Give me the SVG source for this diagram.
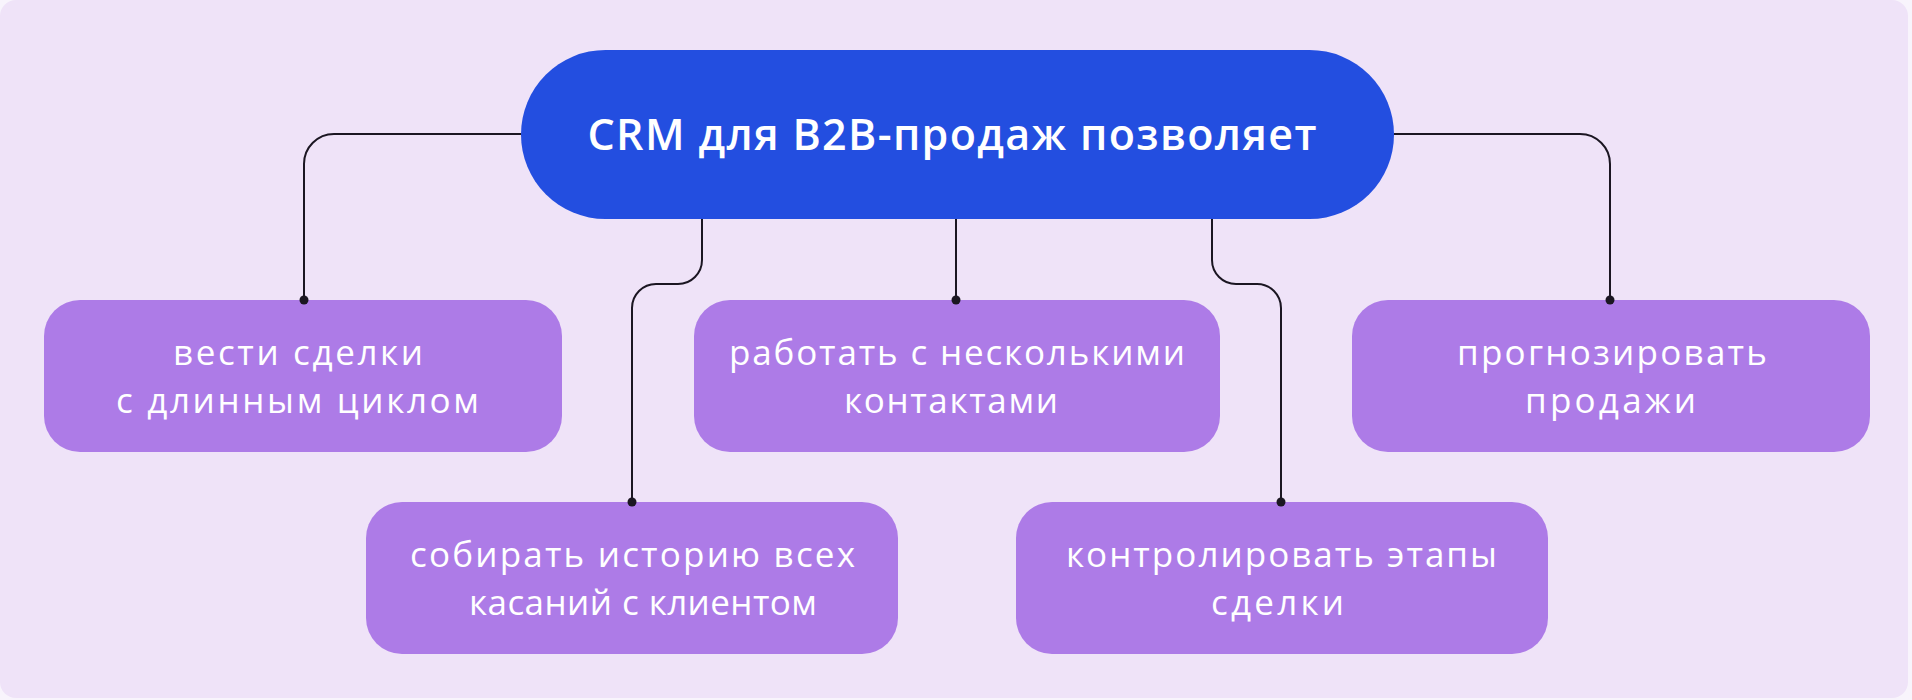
<svg xmlns="http://www.w3.org/2000/svg" width="1912" height="700" viewBox="0 0 1912 700">
  <style>
    .box { fill: #AD7BE7; }
    .t { font-family: "Open Sans", "Noto Sans", sans-serif; font-size: 35px; fill: #FFFFFF; text-anchor: middle; }
    .title { font-family: "Open Sans", "Noto Sans", sans-serif; font-size: 43px; font-weight: 600; fill: #FFFFFF; text-anchor: middle; }
    .conn { fill: none; stroke: #1B1622; stroke-width: 2; }
    .dot { fill: #1B1622; }
  </style>
  <rect x="0" y="0" width="1912" height="700" fill="#F8F4FC"/>
  <rect x="0" y="0" width="1908" height="698" rx="16" fill="#EFE3F8"/>

  <g id="center">
    <rect x="521" y="50" width="873" height="169" rx="84.5" fill="#234EE0"/>
    <text class="title" x="952" y="150" textLength="729">CRM для B2B-продаж позволяет</text>
  </g>

  <g id="node1">
    <rect class="box" x="44" y="300" width="518" height="152" rx="36"/>
    <text class="t" x="298" y="365" textLength="250">вести сделки</text>
    <text class="t" x="297.5" y="413" textLength="363">с длинным циклом</text>
  </g>

  <g id="node2">
    <rect class="box" x="694" y="300" width="526" height="152" rx="36"/>
    <text class="t" x="957" y="365" textLength="456">работать с несколькими</text>
    <text class="t" x="951" y="413" textLength="214">контактами</text>
  </g>

  <g id="node3">
    <rect class="box" x="1352" y="300" width="518" height="152" rx="36"/>
    <text class="t" x="1612" y="365" textLength="310">прогнозировать</text>
    <text class="t" x="1610.5" y="413" textLength="171">продажи</text>
  </g>

  <g id="node4">
    <rect class="box" x="366" y="502" width="532" height="152" rx="36"/>
    <text class="t" x="632.5" y="567" textLength="445">собирать историю всех</text>
    <text class="t" x="643" y="615" textLength="348">касаний с клиентом</text>
  </g>

  <g id="node5">
    <rect class="box" x="1016" y="502" width="532" height="152" rx="36"/>
    <text class="t" x="1281.5" y="567" textLength="431">контролировать этапы</text>
    <text class="t" x="1277.5" y="615" textLength="133">сделки</text>
  </g>

  <g id="connectors">
    <path class="conn" d="M521,134 H334 A30,30 0 0 0 304,164 V300"/>
    <path class="conn" d="M702,219 V260 A24,24 0 0 1 678,284 H656 A24,24 0 0 0 632,308 V502"/>
    <path class="conn" d="M956,219 V300"/>
    <path class="conn" d="M1212,219 V260 A24,24 0 0 0 1236,284 H1257 A24,24 0 0 1 1281,308 V502"/>
    <path class="conn" d="M1394,134 H1580 A30,30 0 0 1 1610,164 V300"/>
    <circle class="dot" cx="304" cy="300" r="4.5"/>
    <circle class="dot" cx="632" cy="502" r="4.5"/>
    <circle class="dot" cx="956" cy="300" r="4.5"/>
    <circle class="dot" cx="1281" cy="502" r="4.5"/>
    <circle class="dot" cx="1610" cy="300" r="4.5"/>
  </g>
</svg>
